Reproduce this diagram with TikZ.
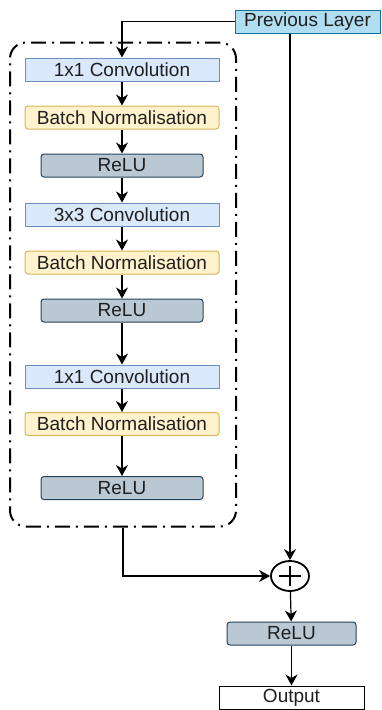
\documentclass[tikz,border=0pt]{standalone}
\usepackage{fontspec}
\setmainfont{Liberation Sans}
\usetikzlibrary{arrows.meta,shapes.geometric}
\definecolor{convfill}{HTML}{DAE8FC}
\definecolor{convdraw}{HTML}{6C8EBF}
\definecolor{bnfill}{HTML}{FFF2CC}
\definecolor{bndraw}{HTML}{D6B656}
\definecolor{relufill}{HTML}{BAC8D3}
\definecolor{reludraw}{HTML}{23445D}
\definecolor{prevfill}{HTML}{B1DDF0}
\definecolor{prevdraw}{HTML}{10739E}
\tikzset{
  blk/.style={draw, line width=1pt, minimum height=23pt, inner sep=0pt, anchor=center, text=black!88},
  conv/.style={blk, fill=convfill, draw=convdraw, minimum width=194pt},
  bn/.style={blk, fill=bnfill, draw=bndraw, minimum width=194pt, rounded corners=3pt},
  relu/.style={blk, fill=relufill, draw=reludraw, minimum width=162pt, rounded corners=3pt},
  arr/.style={-{Stealth[length=11pt,width=12pt,inset=3.5pt]}, line width=1.2pt},
  grp/.style={draw, line width=2pt, rounded corners=16pt, dash pattern=on 15pt off 6pt on 2pt off 6pt, minimum width=226pt, minimum height=484pt, inner sep=0pt},
}
\begin{document}
\begin{tikzpicture}[x=1pt,y=-1pt,font=\fontsize{19}{22}\selectfont]
\useasboundingbox (0,0) rectangle (381,710);
\node[grp] (group) at (123,284.5) {};
\node[blk, fill=prevfill, draw=prevdraw, minimum width=145pt] (prev) at (307.5,21.5) {Previous Layer};
\node[conv] (c1) at (122,69.5) {1x1 Convolution};
\node[bn] (b1) at (122,117.5) {Batch Normalisation};
\node[relu] (r1) at (122,165.5) {ReLU};
\node[conv] (c2) at (122,214.5) {3x3 Convolution};
\node[bn] (b2) at (122,262.5) {Batch Normalisation};
\node[relu] (r2) at (122,310.5) {ReLU};
\node[conv] (c3) at (122,376.5) {1x1 Convolution};
\node[bn] (b3) at (122,424) {Batch Normalisation};
\node[relu] (r3) at (122,488) {ReLU};
\node[draw, ellipse, line width=1.8pt, minimum width=38pt, minimum height=30pt, inner sep=0pt] (plus) at (290,576) {};
\draw[line width=2pt] ([xshift=-11pt]plus.center) -- ([xshift=11pt]plus.center);
\draw[line width=2pt] ([yshift=-10pt]plus.center) -- ([yshift=10pt]plus.center);
\node[relu, minimum width=129pt] (rf) at (291.5,633.5) {ReLU};
\node[blk, fill=white, draw=black, minimum width=145pt] (out) at (291.5,697.5) {Output};
\draw[arr] (prev.west) -| (c1.north);
\draw[arr] (plus.north |- prev.south) -- (plus.north);
\draw[arr] (c1) -- (b1);
\draw[arr] (b1) -- (r1);
\draw[arr] (r1) -- (c2);
\draw[arr] (c2) -- (b2);
\draw[arr] (b2) -- (r2);
\draw[arr] (r2) -- (c3);
\draw[arr] (c3) -- (b3);
\draw[arr] (b3) -- (r3);
\draw[arr] (group.south) |- (plus.west);
\draw[arr] (plus) -- (rf);
\draw[arr] (rf) -- (out);
\end{tikzpicture}
\end{document}
